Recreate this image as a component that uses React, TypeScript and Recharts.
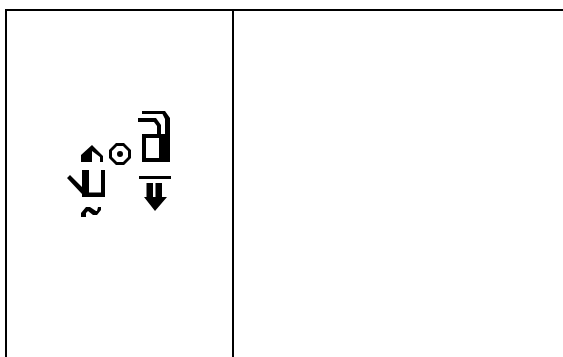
import { ReferenceLine, Scatter, ScatterChart, XAxis, YAxis } from "recharts";

const WIDTH = 563;
const HEIGHT = 357;

// Symbols in the left panel, with where each one's top left corner sits
const glyphNames = ["lock", "arrow", "ring", "house", "check", "tilde"];
const glyphX = [138, 139, 109, 81, 67, 81];
const glyphY = [111, 176, 143, 145, 170, 207];

const glyphData = glyphNames.map((name, i) => ({ name, x: glyphX[i], y: glyphY[i] }));

const PATHS: Record<string, string> = {
  lock:
    "M4,0H27L32,7V23H27V8L24.5,3H4Z M0,7H18L23,14V23H19V15L16,11H0Z M4,23H32V51H4Z M8,27V47H21V27Z",
  arrow: "M0,0H32V3H0Z M7.5,7H14V21H7.5Z M16.5,7H23V21H16.5Z M5,21H28L16,35Z",
  ring:
    "M7,0H15L22,7V15L15,22H7L0,15V7Z M8,3L3,8V14L8,19H14L19,14V8L14,3Z M8,11a3,3 0 1,0 6,0a3,3 0 1,0 -6,0Z",
  house: "M11,0L22,11V17H19V12L11,6V17H0V10Z",
  check: "M15,0H22V22.5H34V0H38V27H15Z M0,8L3,5L15,17V24Z",
  tilde: "M0,10V6L5,0H9L15,4H16L17,0H20V3L16,8H12L7,4L5,6V10Z",
};

function Glyph(props: any) {
  const { cx, cy, payload } = props;
  return (
    <path
      transform={`translate(${cx},${cy})`}
      d={PATHS[payload.name]}
      fill="#000"
      fillRule="evenodd"
    />
  );
}

export default function App() {
  return (
    <div style={{ position: "absolute", left: 0, top: 0, width: WIDTH, height: HEIGHT }}>
      <ScatterChart
        width={WIDTH}
        height={HEIGHT}
        margin={{ top: 0, right: 0, bottom: 0, left: 0 }}
        style={{ background: "#fff" }}
      >
        <XAxis type="number" dataKey="x" domain={[0, WIDTH]} hide />
        <YAxis type="number" dataKey="y" domain={[0, HEIGHT]} reversed hide />
        <ReferenceLine
          segment={[
            { x: 5, y: 10 },
            { x: WIDTH, y: 10 },
          ]}
          stroke="#000"
          strokeWidth={2}
        />
        <ReferenceLine segment={[{ x: 6, y: 9 }, { x: 6, y: HEIGHT }]} stroke="#000" strokeWidth={2} />
        <ReferenceLine segment={[{ x: 233, y: 9 }, { x: 233, y: HEIGHT }]} stroke="#000" strokeWidth={2} />
        <Scatter data={glyphData} shape={Glyph} isAnimationActive={false} />
      </ScatterChart>
    </div>
  );
}
